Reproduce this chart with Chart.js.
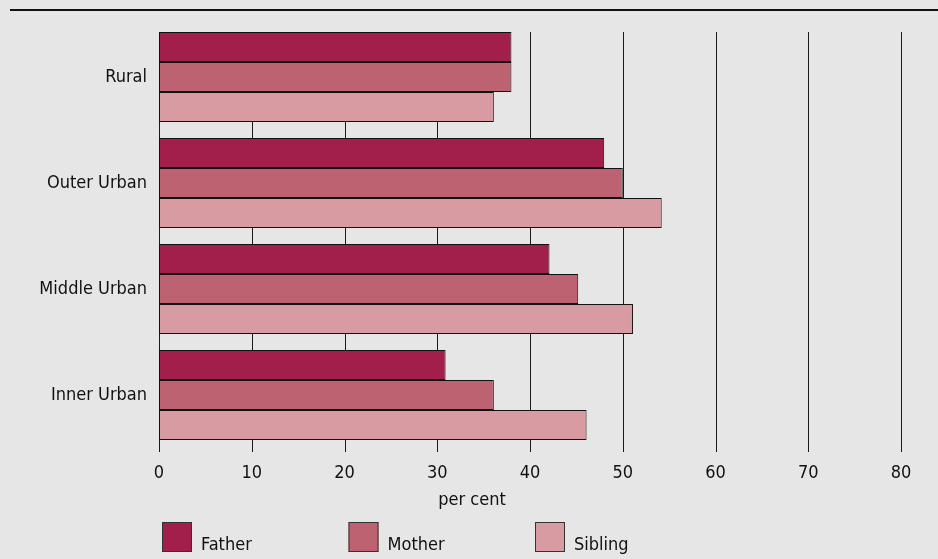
<!DOCTYPE html>
<html>
<head>
<meta charset="utf-8">
<script src="https://cdn.jsdelivr.net/npm/chart.js@4.4.1/dist/chart.umd.min.js"></script>
<style>
  html, body { margin: 0; padding: 0; background: #e6e6e6; }
  #wrap { width: 938px; height: 559px; }
</style>
</head>
<body>
<div id="wrap"><canvas id="c" width="938" height="559"></canvas></div>
<script>
const categories = ["Rural", "Outer Urban", "Middle Urban", "Inner Urban"];
const seriesNames = ["Father", "Mother", "Sibling"];
const fatherValues = [38, 48, 42.1, 30.9];
const motherValues = [38, 50, 45.2, 36.1];
const siblingValues = [36.1, 54.2, 51.1, 46.1];
const xTicks = [0, 10, 20, 30, 40, 50, 60, 70, 80];
const axisTitle = "per cent";

const colors = ["#a11f4a", "#bd6271", "#d89ba2"];
const FONT = "'Liberation Sans Narrow', 'DejaVu Sans Condensed', 'Liberation Sans', sans-serif";
const FS = 18;

const bgPlugin = {
  id: 'bg',
  beforeDraw(chart) {
    const ctx = chart.ctx;
    ctx.save();
    ctx.fillStyle = '#e6e6e6';
    ctx.fillRect(0, 0, chart.width, chart.height);
    ctx.strokeStyle = '#111';
    ctx.lineWidth = 2;
    ctx.beginPath();
    ctx.moveTo(10, 10);
    ctx.lineTo(chart.width, 10);
    ctx.stroke();
    ctx.restore();
  }
};

const gridPlugin = {
  id: 'customGrid',
  beforeDatasetsDraw(chart) {
    const ctx = chart.ctx;
    const xs = chart.scales.x;
    const area = chart.chartArea;
    ctx.save();
    ctx.strokeStyle = '#1a1a1a';
    ctx.lineWidth = 1;
    xTicks.forEach(v => {
      const px = Math.round(xs.getPixelForValue(v)) + 0.5;
      ctx.beginPath();
      ctx.moveTo(px, area.top + 8);
      ctx.lineTo(px, area.bottom + 4);
      ctx.stroke();
    });
    ctx.restore();
  }
};

const legendPlugin = {
  id: 'customLegend',
  afterDraw(chart) {
    const ctx = chart.ctx;
    const area = chart.chartArea;
    ctx.save();
    ctx.font = FS + "px " + FONT;
    ctx.fillStyle = '#111';
    // axis title, centred on the page as in the reference
    ctx.textAlign = 'center';
    ctx.textBaseline = 'middle';
    ctx.fillText(axisTitle, chart.width / 2 + 3, 500);
    ctx.textBaseline = 'alphabetic';
    ctx.textAlign = 'left';
    chart.data.datasets.forEach((ds, i) => {
      const x = area.left + 3 + i * 186.5;
      const y = 522;
      ctx.fillStyle = ds.backgroundColor;
      ctx.fillRect(x, y, 30, 30);
      ctx.strokeStyle = '#333';
      ctx.lineWidth = 1;
      ctx.strokeRect(x + 0.5, y + 0.5, 29, 29);
      ctx.fillStyle = '#111';
      ctx.fillText(ds.label, x + 39, y + 28);
    });
    ctx.restore();
  }
};

new Chart(document.getElementById('c'), {
  type: 'bar',
  data: {
    labels: categories,
    datasets: [
      { label: seriesNames[0], data: fatherValues, backgroundColor: colors[0] },
      { label: seriesNames[1], data: motherValues, backgroundColor: colors[1] },
      { label: seriesNames[2], data: siblingValues, backgroundColor: colors[2] }
    ]
  },
  options: {
    indexAxis: 'y',
    responsive: false,
    animation: false,
    devicePixelRatio: 1,
    layout: { padding: { top: 24, right: 37, left: 0, bottom: 0 } },
    datasets: {
      bar: {
        categoryPercentage: 0.849,
        barPercentage: 1.0,
        borderColor: '#111',
        borderWidth: 1,
        borderSkipped: false
      }
    },
    plugins: {
      legend: { display: false },
      tooltip: { enabled: false },
      title: { display: false }
    },
    scales: {
      x: {
        type: 'linear',
        min: 0,
        max: 80,
        afterBuildTicks(s) { s.ticks = xTicks.map(v => ({ value: v })); },
        afterFit(s) { s.height = 111; },
        grid: { display: false, drawTicks: false },
        border: { display: false },
        ticks: {
          color: '#111',
          font: { family: FONT, size: FS },
          padding: 15,
          maxRotation: 0
        },
        title: { display: false }
      },
      y: {
        afterFit(s) { s.width = 159; },
        grid: { display: false, drawTicks: false },
        border: { display: false },
        ticks: {
          color: '#111',
          font: { family: FONT, size: FS },
          padding: 12
        }
      }
    }
  },
  plugins: [bgPlugin, gridPlugin, legendPlugin]
});
</script>
</body>
</html>
